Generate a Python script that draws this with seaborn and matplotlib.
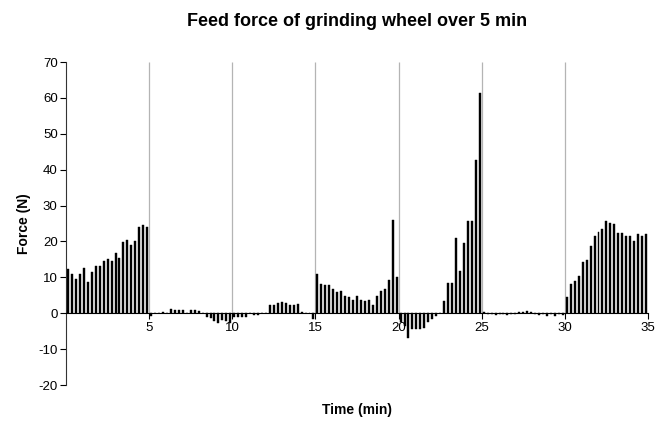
import pandas as pd
import seaborn as sns
import matplotlib.pyplot as plt

# force readings (N), 21 samples in every 5 minute block
block_0_5 = [12.3, 11.0, 9.4, 11.0, 12.5, 8.7, 11.6, 13.1, 13.1, 14.6, 15.1,
             14.5, 16.8, 15.3, 19.8, 20.5, 19.0, 20.0, 24.0, 24.6, 24.0]
block_5_10 = [-0.8, 0.2, 0.2, 0.3, 0.2, 1.3, 0.9, 0.9, 0.8, 0.2, 0.8,
              0.8, 0.7, 0.2, -1.0, -1.4, -2.3, -2.8, -1.9, -2.3, -2.8]
block_10_15 = [-1.0, -1.0, -1.0, -1.0, 0.0, -0.5, -0.5, 0.0, 0.0, 2.2, 2.3,
               2.8, 3.0, 2.8, 2.4, 2.3, 2.5, 0.4, 0.2, 0.0, -1.5]
block_15_20 = [11.0, 8.1, 7.8, 7.8, 6.7, 5.8, 6.3, 4.9, 4.4, 3.7, 4.9,
               3.8, 3.5, 3.8, 2.3, 4.9, 6.3, 6.7, 9.3, 26.0, 10.2]
block_20_25 = [-2.5, -3.5, -6.8, -4.5, -4.5, -4.5, -4.0, -2.5, -1.5, -0.8, 0.0,
               3.5, 8.5, 8.5, 21.0, 11.9, 19.5, 25.8, 25.8, 42.7, 61.5]
block_25_30 = [0.3, -0.3, -0.3, -0.5, -0.3, -0.3, -0.5, -0.3, -0.2, 0.3, 0.3,
               0.5, 0.3, -0.3, -0.5, -0.3, -0.8, -0.3, -0.8, -0.3, -0.5]
block_30_35 = [4.6, 8.1, 9.0, 10.4, 14.2, 14.8, 18.8, 21.4, 22.7, 23.4, 25.6,
               25.1, 24.8, 22.3, 22.3, 21.4, 21.4, 20.0, 22.0, 21.4, 22.0]

minute_labels = ["5", "10", "15", "20", "25", "30", "35"]

blocks = [block_0_5, block_5_10, block_10_15, block_15_20,
          block_20_25, block_25_30, block_30_35]
force = [v for b in blocks for v in b]
df = pd.DataFrame({"sample": range(len(force)), "force": force})
per_block = len(block_0_5)

sns.set_style("white")
plt.rcParams["font.family"] = ["Liberation Sans", "DejaVu Sans"]
plt.rcParams["axes.unicode_minus"] = False
plt.rcParams["text.color"] = "black"
plt.rcParams["axes.labelcolor"] = "black"
plt.rcParams["xtick.color"] = "black"
plt.rcParams["ytick.color"] = "black"

fig = plt.figure(figsize=(6.55, 4.21), dpi=100)
ax = fig.add_axes([0.1008, 0.0855, 0.8885, 0.7672])

sns.barplot(data=df, x="sample", y="force", color="black", width=0.5,
            saturation=1, edgecolor="black", linewidth=0.3, ax=ax)

# grey separators between the 5 minute blocks
bounds = [per_block * (i + 1) - 0.5 for i in range(len(blocks))]
ax.vlines(bounds[:-1], 0, 70, color="#b4b4b4", linewidth=0.9, zorder=0)

ax.set_xlim(-0.5, len(force) - 0.5)
ax.set_ylim(-20, 70)
ax.set_yticks(range(-20, 71, 10))
ax.set_xticks(bounds)
ax.set_xticklabels(minute_labels)
ax.tick_params(axis="both", direction="out", length=4, width=0.8,
               labelsize=9.5, pad=2, bottom=True, left=True)

for s in ["top", "right"]:
    ax.spines[s].set_visible(False)
ax.spines["bottom"].set_position(("data", 0))
ax.spines["bottom"].set_color("black")
ax.spines["left"].set_color("#333333")

ax.set_title("Feed force of grinding wheel over 5 min", fontsize=13,
             fontweight="bold", pad=26)
ax.set_xlabel("Time (min)", fontsize=10, fontweight="bold")
ax.xaxis.set_label_coords(0.5, -0.055)
ax.set_ylabel("Force (N)", fontsize=10, fontweight="bold", labelpad=5)

plt.savefig("out.png", dpi=100)
